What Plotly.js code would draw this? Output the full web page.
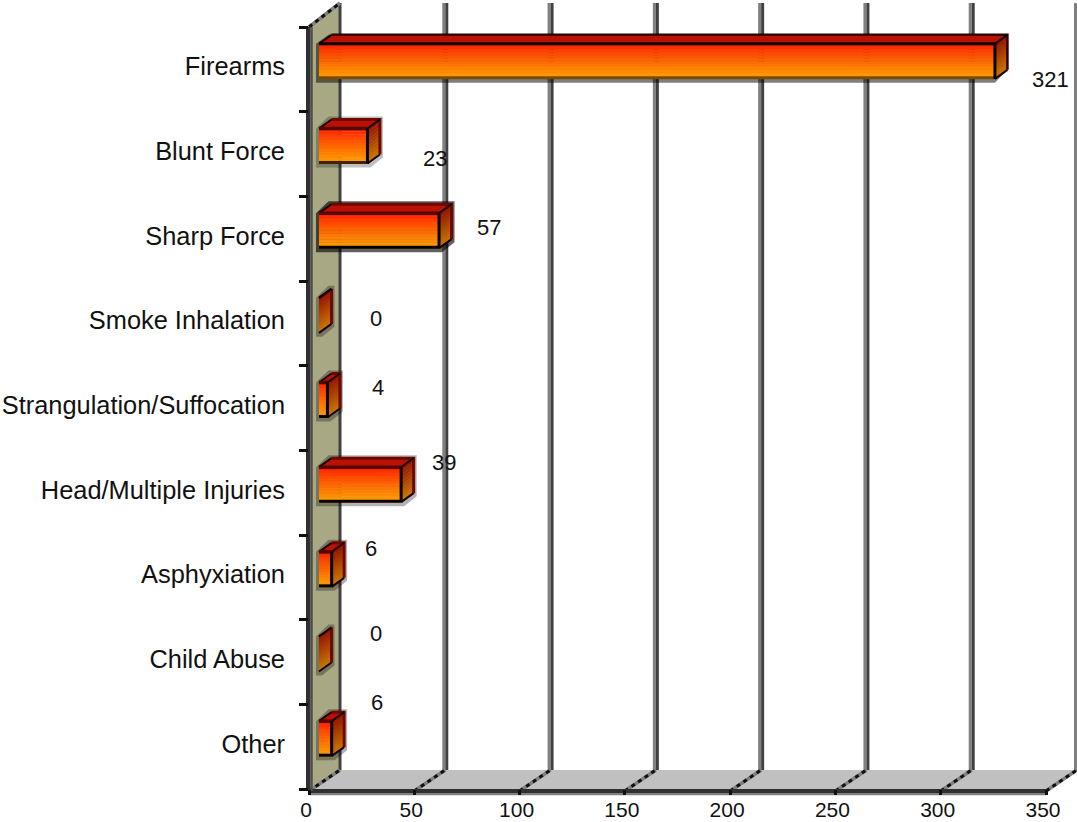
<!DOCTYPE html>
<html><head><meta charset="utf-8">
<script src="https://cdn.plot.ly/plotly-3.0.1.min.js"></script>
<style>html,body{margin:0;padding:0;background:#fff}#c{width:1077px;height:822px}</style>
</head><body><div id="c"></div>
<script>
const categories = ["Firearms","Blunt Force","Sharp Force","Smoke Inhalation","Strangulation/Suffocation","Head/Multiple Injuries","Asphyxiation","Child Abuse","Other"];
const values = [321,23,57,0,4,39,6,0,6];
const xTicks = [0,50,100,150,200,250,300,350];
// pixel positions of the value labels in the reference (layout, not data)
const labelPxX = [1050,435,489,376,378,444,371,376,377];
const labelPxY = [80,158,227,318,387,462,548,633,702];

const W=1077,H=822,L=309,R=1046,T=27,B=789;
const sx=(R-L)/350, sy=(B-T)/9;
const rows=categories.map((_,i)=>i);
const baseV=10/sx, offY=-8/sy, hY=35/sy, dV=12.5/sx, dR=9/sy;
const pxX=p=>(p-L)/(R-L), pxY=p=>1-(p-T)/(B-T);
const vToPaper=v=>v/350, rowToPaper=r=>1-(r+0.5)/9;
const wallDX=31/(R-L);

function mix(a,b,t){return 'rgb('+a.map((c,i)=>Math.round(c+(b[i]-c)*t)).join(',')+')';}
const traces=[];
// front-face gradient (bars through the axes)
const N=12;
for(let k=0;k<N;k++){
  const t0=Math.pow(k/(N-1),0.85);
  traces.push({type:'bar',orientation:'h',x:values,base:values.map(()=>baseV),
    y:rows.map(r=>r+offY-hY/2+(k+0.5)*hY/N),width:values.map(()=>hY/N*1.1),
    marker:{color:mix([255,32,0],[255,158,0],t0),line:{width:0}},hoverinfo:'skip',showlegend:false,cliponaxis:false});
}
// side-face gradient
const M=10;
for(let k=0;k<M;k++){
  const xs=[],ys=[];
  values.forEach((v,r)=>{
    const xr=baseV+v,y0=r+offY-hY/2+k*hY/M,y1=y0+hY/M*1.1;
    xs.push(xr,xr+dV,xr+dV,xr,xr,null);
    ys.push(y0,y0-dR,y1-dR,y1,y0,null);
  });
  traces.push({type:'scatter',mode:'none',x:xs,y:ys,fill:'toself',fillcolor:mix([150,24,0],[200,115,0],k/(M-1)),hoverinfo:'skip',showlegend:false,cliponaxis:false});
}
// top face
(function(){
  const xs=[],ys=[];
  values.forEach((v,r)=>{
    const a=baseV,b=baseV+v,y=r+offY-hY/2;
    xs.push(a,a+dV,b+dV,b,a,null);ys.push(y,y-dR,y-dR,y,y,null);
  });
  traces.push({type:'scatter',mode:'none',x:xs,y:ys,fill:'toself',fillcolor:'#bc1000',hoverinfo:'skip',showlegend:false,cliponaxis:false});
})();
// outlines
function lineTrace(build,color,width,keep){
  const xs=[],ys=[];
  values.forEach((v,r)=>{if(!keep||keep(r))build(v,r,xs,ys);});
  traces.push({type:'scatter',mode:'lines',x:xs,y:ys,line:{color:color,width:width},hoverinfo:'skip',showlegend:false,cliponaxis:false,connectgaps:false});
}
const backEdge=(v,r,xs,ys)=>{
  const a=baseV,b=baseV+v,y=r+offY-hY/2;
  xs.push(a+dV,b+dV,b+dV,null);ys.push(y-dR,y-dR,y+hY-dR,null);
};
lineTrace(backEdge,'#300000',2.5,r=>r===0);
lineTrace(backEdge,'#6e0800',3,r=>r!==0);
const bottomEdge=(v,r,xs,ys)=>{
  const a=baseV,b=baseV+v,y=r+offY+hY/2-1/sy;
  xs.push(a,b,null);ys.push(y,y,null);
};
lineTrace(bottomEdge,'#7a4a00',3,r=>r===0);
lineTrace(bottomEdge,'#442200',3,r=>r===1);
lineTrace(bottomEdge,'#0a0000',3,r=>r>1);
lineTrace((v,r,xs,ys)=>{ // diagonal edges
  const a=baseV,b=baseV+v,y=r+offY-hY/2;
  xs.push(a,a+dV,null,b,b+dV,null,b,b+dV,null);
  ys.push(y,y-dR,null,y,y-dR,null,y+hY,y+hY-dR,null);
},'#180000',2);
const topEdge=(v,r,xs,ys)=>{
  const a=baseV,b=baseV+v,y=r+offY-hY/2;
  xs.push(a,b,null);ys.push(y,y,null);
};
lineTrace(topEdge,'#060000',3,r=>r===0);
lineTrace(topEdge,'#520a00',3.5,r=>r!==0);
lineTrace((v,r,xs,ys)=>{ // front right edge, only where a front face exists
  const b=baseV+v,y=r+offY-hY/2;
  xs.push(b,b,null);ys.push(y,y+hY,null);
},'#060000',3,r=>values[r]>0);

// frame (paper coords so it may extend past the plot rectangle, under the bars)
const shapes=[];
function line(x0,y0,x1,y1,color,width,dash){shapes.push({type:'line',xref:'paper',yref:'paper',layer:'below',x0,y0,x1,y1,line:{color,width,dash:dash||'solid'}});}
function poly(pts,fill){shapes.push({type:'path',xref:'paper',yref:'paper',layer:'below',path:'M'+pts.map(p=>p[0]+','+p[1]).join('L')+'Z',fillcolor:fill,line:{width:0}});}
const topBack=1+24/(B-T);
const backBottom=pxY(770);
// wall and floor
poly([[0,pxY(27)],[wallDX,topBack],[wallDX,backBottom],[0,pxY(791)]],'#a8a884');
poly([[0,pxY(791)],[1,pxY(791)],[1+wallDX,backBottom],[wallDX,backBottom]],'#c0c0c0');
// back grid lines
xTicks.forEach((v,i)=>{
  const xb=vToPaper(v)+wallDX, d=1.5/(R-L);
  if(i>0) line(xb-d,topBack,xb-d,backBottom,'#808080',3);
  line(xb+(i>0?d:0),topBack,xb+(i>0?d:0),backBottom,'#404040',3);
  // slanted floor lines
  line(vToPaper(v),pxY(791),xb,backBottom,'#808080',3.5);
  line(vToPaper(v),pxY(791),xb,backBottom,'#101010',3,'4px,4px');
});
// top slanted wall edge
line(0,pxY(27),wallDX,topBack,'#808080',3.5);
line(0,pxY(27),wallDX,topBack,'#101010',3,'4px,4px');
// front axes
line(0,pxY(794),1,pxY(794),'#808080',2.5);
line(0,pxY(791),1,pxY(791),'#303030',4);
line(-1/(R-L),pxY(27),-1/(R-L),pxY(791),'#303030',4);
line(2.5/(R-L),pxY(27),2.5/(R-L),pxY(791),'#4e4e4e',2.5);
// bar drop shadows
const shadowAlpha=[0.5,0.25,0.62,0.3,0.3,0.3,0.3,0.3,0.3];
values.forEach((v,r)=>{
  const a=vToPaper(baseV), b=vToPaper(baseV+v), yc=rowToPaper(r)-offY*sy/(B-T);
  const hp=hY*sy/(B-T)/2, ddx=dV*sx/(R-L), ddy=dR*sy/(B-T), u=1/(R-L), w=1/(B-T);
  const halo=r===0?0:3;
  poly([[a-3*u,yc+hp],[a-3*u+ddx,yc+hp+ddy+3*w*(halo?1:0)],[b+ddx+halo*u,yc+hp+ddy+3*w*(halo?1:0)],[b+ddx+halo*u,yc-hp+ddy-halo*w],[b+halo*u,yc-hp-4*w],[a-3*u,yc-hp-4*w]],
    'rgba(0,0,0,'+shadowAlpha[r]+')');
});

const annotations=values.map((v,i)=>({xref:'paper',yref:'paper',x:pxX(labelPxX[i]),y:pxY(labelPxY[i]),text:String(v),showarrow:false,xanchor:'center',yanchor:'middle',font:{family:'Liberation Sans, Arial, sans-serif',size:22,color:'#111'}}));

const layout={
  width:W,height:H,margin:{l:L,r:W-R,t:T,b:H-B,pad:0},
  paper_bgcolor:'#fff',plot_bgcolor:'rgba(0,0,0,0)',barmode:'overlay',showlegend:false,
  font:{family:'Liberation Sans, Arial, sans-serif',size:22,color:'#111'},
  xaxis:{type:'linear',range:[0,350],tickmode:'array',tickvals:xTicks,ticktext:xTicks.map(String),showgrid:false,zeroline:false,showline:false,
    ticks:'outside',ticklen:5,tickwidth:3,tickcolor:'#101010',tickfont:{size:21},ticklabelshift:-3,ticklabelstandoff:-3,automargin:false},
  yaxis:{type:'linear',range:[8.5,-0.5],tickmode:'array',tickvals:rows,ticktext:categories,showgrid:false,zeroline:false,showline:false,
    ticks:'',tickfont:{size:25.4},ticklabelstandoff:23,ticklabelshift:3,automargin:false,
    minor:{tickmode:'array',tickvals:categories.map((_,i)=>i-0.5).concat([8.5]),ticks:'outside',ticklen:9,tickwidth:3,tickcolor:'#101010',showgrid:false}},
  shapes,annotations
};
Plotly.newPlot('c',traces,layout,{displayModeBar:false,responsive:false});
</script></body></html>
